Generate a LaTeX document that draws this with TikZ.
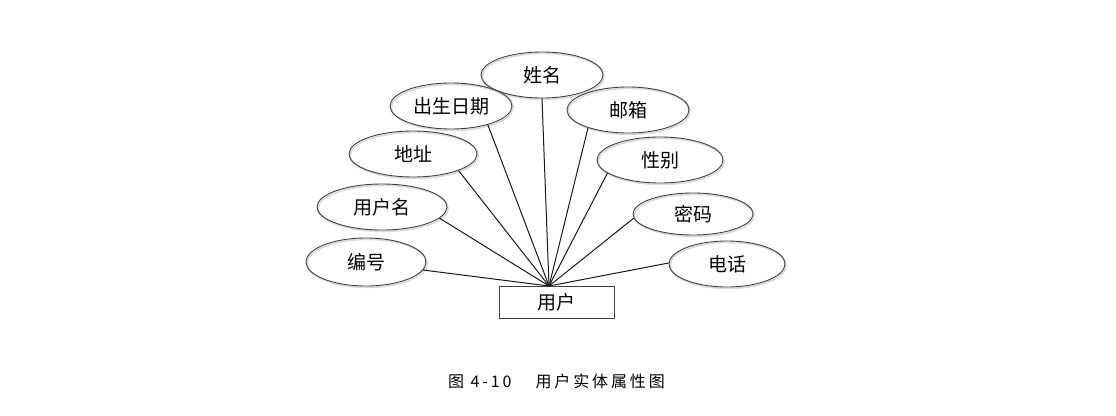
\documentclass[tikz,border=0pt]{standalone}
\usepackage{fontspec}
\newfontfamily\cjk{Noto Sans CJK SC}
\newfontfamily\capfont[LetterSpace=18]{Noto Sans CJK SC}
\usetikzlibrary{shapes.geometric}
\begin{document}
\begin{tikzpicture}[x=1pt,y=-1pt,
  attr/.style={ellipse, draw=black!75, line width=0.9pt, inner sep=0pt,
    font=\cjk\fontsize{19}{19}\selectfont,
    preaction={draw=black!15, line width=1.6pt, transform canvas={shift={(1.2pt,-1.4pt)}}}},
  entity/.style={rectangle, draw=black!75, line width=0.9pt, inner sep=0pt,
    minimum width=115pt, minimum height=32pt, font=\cjk\fontsize{19}{19}\selectfont},
  link/.style={draw=black!90, line width=1pt}]
\useasboundingbox (0,0) rectangle (1116,415);
\fill[white] (0,0) rectangle (1116,415);

% entity and the point where all attribute links meet
\node[entity] (user) at (556.5,302) {用户};
\coordinate (hub) at (549,286);

% attributes, left side
\node[attr, minimum width=122pt, minimum height=46pt] (xm)   at (542,75)  {姓名};
\node[attr, minimum width=122pt, minimum height=46pt] (csrq) at (451,106) {出生日期};
\node[attr, minimum width=128pt, minimum height=46pt] (dz)   at (413,154) {地址};
\node[attr, minimum width=130pt, minimum height=46pt] (yhm)  at (382,207) {用户名};
\node[attr, minimum width=120pt, minimum height=48pt] (bh)   at (366,262) {编号};
% attributes, right side
\node[attr, minimum width=122pt, minimum height=46pt] (yx)   at (628,110) {邮箱};
\node[attr, minimum width=126pt, minimum height=46pt] (xb)   at (660,160) {性别};
\node[attr, minimum width=120pt, minimum height=42pt] (mm)   at (693,214) {密码};
\node[attr, minimum width=116pt, minimum height=46pt] (dh)   at (727,264) {电话};

% links from each attribute to the entity
\draw[link] (xm.south) -- (hub);
\draw[link] (csrq.-27) -- (hub);
\draw[link] (dz.-20) -- (hub);
\draw[link] (yhm.-11) -- (hub);
\draw[link] (bh.-8) -- (hub);
\draw[link] (yx.204) -- (hub);
\draw[link] (xb.194) -- (hub);
\draw[link] (mm.184) -- (hub);
\draw[link] (dh.179) -- (hub);

% caption
\node[font=\capfont\fontsize{16}{16}\selectfont, inner sep=0pt, anchor=west] (cap) at (448,381) {图 4-10\hspace{1.5em}用户实体属性图};
\end{tikzpicture}
\end{document}
